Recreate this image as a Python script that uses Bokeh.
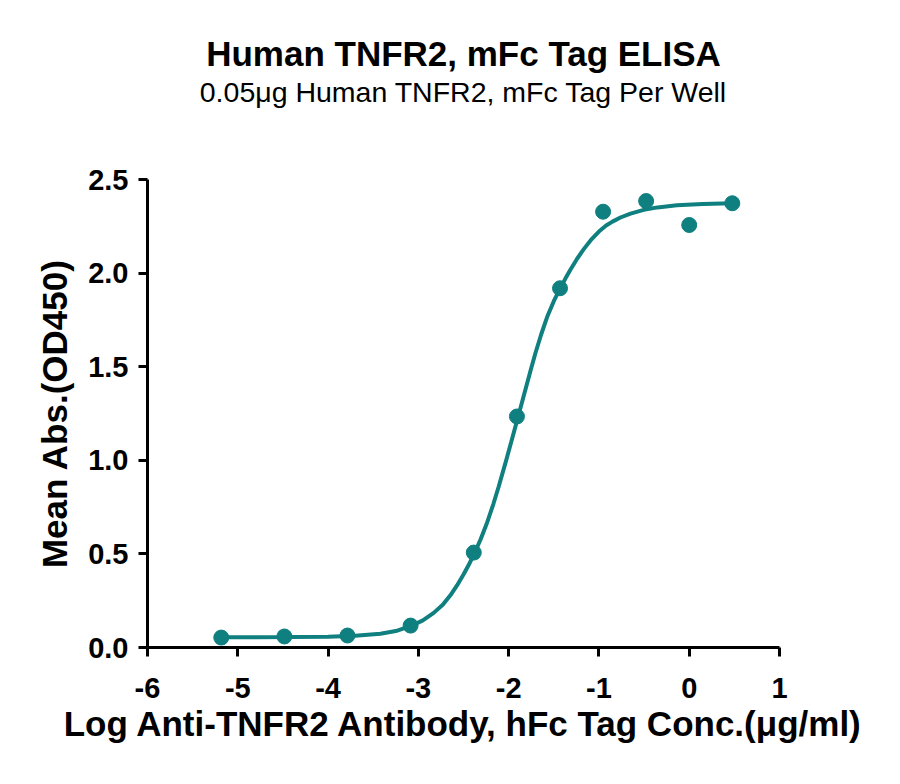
# ELISA binding curve: Human TNFR2, mFc Tag
from bokeh.plotting import figure
from bokeh.models import Range1d, FixedTicker, Title
from bokeh.embed import file_html
from bokeh.resources import INLINE

# measured points (log concentration, mean OD450)
log_conc = [-5.183, -4.484, -3.785, -3.086, -2.386, -1.908, -1.431, -0.954, -0.477, 0.0, 0.477]
mean_abs = [0.053, 0.059, 0.064, 0.117, 0.507, 1.234, 1.919, 2.328, 2.385, 2.257, 2.373]

# fitted curve
fit_x = [-5.2, -4.8, -4.4, -4.0, -3.7, -3.42, -3.25, -3.08, -2.95, -2.83, -2.73, -2.645,
         -2.57, -2.5, -2.44, -2.386, -2.31, -2.238, -2.17, -2.11, -2.04, -1.97, -1.908,
         -1.84, -1.76, -1.703, -1.64, -1.574, -1.5, -1.434, -1.37, -1.316, -1.24, -1.168,
         -1.08, -1.0, -0.92, -0.85, -0.762, -0.65, -0.504, -0.35, -0.136, 0.15, 0.475]
fit_y = [0.055, 0.055, 0.056, 0.058, 0.063, 0.073, 0.088, 0.115, 0.145, 0.185, 0.228, 0.279,
         0.333, 0.390, 0.443, 0.496, 0.578, 0.668, 0.765, 0.860, 0.978, 1.100, 1.210,
         1.332, 1.474, 1.573, 1.672, 1.765, 1.850, 1.914, 1.972, 2.018, 2.078, 2.128,
         2.182, 2.222, 2.254, 2.275, 2.297, 2.318, 2.338, 2.351, 2.362, 2.369, 2.373]

x_ticks = [-6, -5, -4, -3, -2, -1, 0, 1]
x_tick_labels = ["-6", "-5", "-4", "-3", "-2", "-1", "0", "1"]
y_ticks = [0, 0.5, 1.0, 1.5, 2.0, 2.5]
y_tick_labels = ["0.0", "0.5", "1.0", "1.5", "2.0", "2.5"]

teal = "#0F7F7F"
font = "Liberation Sans"

p = figure(width=884, height=766, output_backend="svg", toolbar_location=None,
           x_range=Range1d(-6, 1), y_range=Range1d(0, 2.5),
           min_border_left=147, min_border_right=105, min_border_top=179, min_border_bottom=119)
p.outline_line_color = None
p.grid.visible = False

# title panels stack upward from the frame: spacer, subtitle, title
p.add_layout(Title(text=" ", text_font_size="1px", standoff=69), "above")
p.add_layout(Title(text="0.05μg Human TNFR2, mFc Tag Per Well", align="center",
                   text_font=font, text_font_size="28.5px", text_font_style="normal",
                   text_color="black", standoff=0), "above")
p.add_layout(Title(text="Human TNFR2, mFc Tag ELISA", align="center",
                   text_font=font, text_font_size="35px", text_font_style="bold",
                   text_color="black", standoff=1), "above")

p.line(fit_x, fit_y, line_color=teal, line_width=4)
p.scatter(log_conc, mean_abs, size=15, fill_color=teal, line_color=teal)

p.xaxis.ticker = FixedTicker(ticks=x_ticks)
p.xaxis.major_label_overrides = dict(zip(x_ticks, x_tick_labels))
p.yaxis.ticker = FixedTicker(ticks=y_ticks)
p.yaxis.major_label_overrides = dict(zip(y_ticks, y_tick_labels))

p.xaxis.axis_label = "Log Anti-TNFR2 Antibody, hFc Tag Conc.(μg/ml)"
p.yaxis.axis_label = "Mean Abs.(OD450)"

for ax in (p.xaxis, p.yaxis):
    ax.axis_line_width = 3
    ax.axis_line_color = "black"
    ax.major_tick_line_width = 3
    ax.major_tick_line_color = "black"
    ax.major_tick_out = 9
    ax.major_tick_in = 0
    ax.minor_tick_line_color = None
    ax.major_label_text_font = font
    ax.major_label_text_font_size = "29px"
    ax.major_label_text_font_style = "bold"
    ax.major_label_text_color = "black"
    ax.axis_label_text_font = font
    ax.axis_label_text_font_size = "35px"
    ax.axis_label_text_font_style = "bold"
    ax.axis_label_text_color = "black"

p.xaxis.major_label_standoff = 21
p.xaxis.axis_label_standoff = 3
p.yaxis.major_label_standoff = 10
p.yaxis.axis_label_standoff = 11

open("out.html", "w").write(file_html(p, INLINE))
